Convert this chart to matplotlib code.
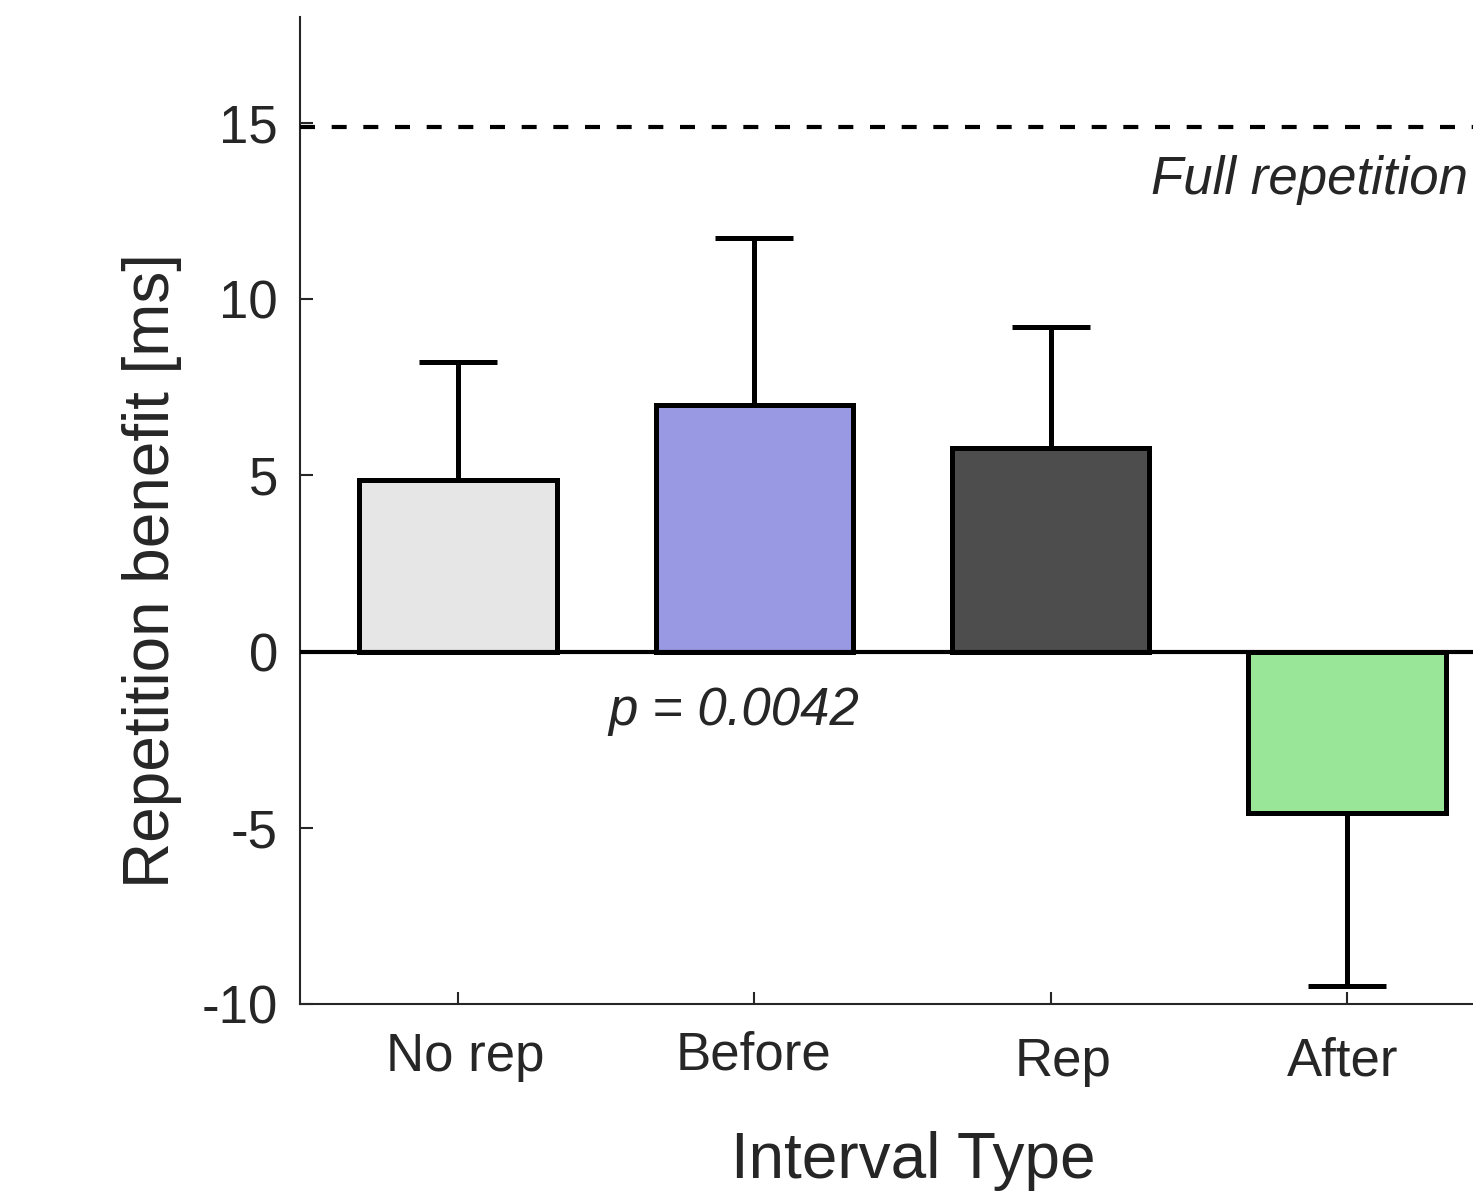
import numpy as np
import matplotlib
matplotlib.use('Agg')
import matplotlib.pyplot as plt
from matplotlib.transforms import ScaledTranslation

# Data
categories = ['No rep', 'Before', 'Rep', 'After']
benefit = [4.86, 6.99, 5.77, -4.57]
err_top = [8.21, 11.73, 9.20, -9.49]   # end of the one-sided error bar
colors = ['#e6e6e6', '#9999e3', '#4d4d4d', '#99e699']
full_rep = 14.88
y_ticks = [-10, -5, 0, 5, 10, 15]

plt.rcParams['font.family'] = ['Liberation Sans', 'DejaVu Sans']
plt.rcParams['axes.unicode_minus'] = False
txt = '#262626'

fig = plt.figure(figsize=(14.73, 11.92), dpi=100)
ax = fig.add_axes([300/1473, (1192-1004)/1192, 1173/1473, (1004-17)/1192])

x = np.arange(1, len(categories) + 1)
ax.bar(x, benefit, width=0.666, color=colors, edgecolor='black', linewidth=3.6, zorder=2)

# one-sided error bars
lower = [0 if b >= 0 else b - e for b, e in zip(benefit, err_top)]
upper = [e - b if b >= 0 else 0 for b, e in zip(benefit, err_top)]
ax.errorbar(x, benefit, yerr=[lower, upper], fmt='none', ecolor='black',
            elinewidth=3.6, capsize=28, capthick=3.6, zorder=1)

ax.axhline(0, color='black', linewidth=3, zorder=3)
ax.axhline(full_rep, color='black', linewidth=3, linestyle=(0, (3.6, 4)), zorder=3)

ax.set_xlim(0.467, 4.425)
ax.set_ylim(-10, 18)
ax.set_yticks(y_ticks)
ax.set_xticks(x)
ax.set_xticklabels(categories)

for s in ['top', 'right']:
    ax.spines[s].set_visible(False)
for s in ['left', 'bottom']:
    ax.spines[s].set_color(txt)
    ax.spines[s].set_linewidth(1.5)

ax.tick_params(direction='in', length=9, width=1.5, color=txt, labelcolor=txt, labelsize=38)
ax.tick_params(axis='x', pad=20)
ax.tick_params(axis='y', pad=16)

# the labels in the original sit slightly off their ticks
nudges = [(7, 0), (-1, -1), (12, 5), (-4, 5)]
for lab, (dx, dy) in zip(ax.get_xticklabels(), nudges):
    lab.set_transform(lab.get_transform() + ScaledTranslation(dx/100, -dy/100, fig.dpi_scale_trans))

ax.set_xlabel('Interval Type', fontsize=46, color=txt, x=0.523, labelpad=32)
ax.set_ylabel('Repetition benefit [ms]', fontsize=46, color=txt, y=0.439, labelpad=14)

ax.text(0.996, full_rep - 1.5, 'Full repetition', transform=ax.get_yaxis_transform(),
        ha='right', va='center', fontsize=38, style='italic', color=txt)
ax.text(1.93, -1.68, 'p = 0.0042', ha='center', va='center', fontsize=38,
        style='italic', color=txt)

fig.savefig('out.png', dpi=100)
